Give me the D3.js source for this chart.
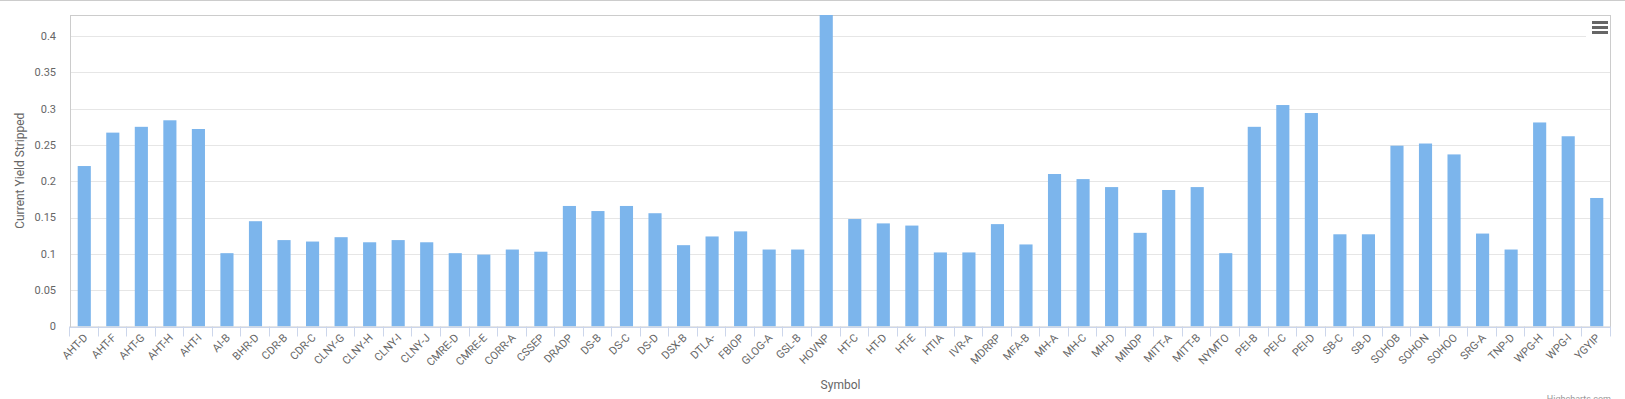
<!DOCTYPE html>
<html>
<head>
<meta charset="utf-8">
<script src="https://cdn.jsdelivr.net/npm/d3@7"></script>
<style>
  body { margin: 0; background: #fff; }
  svg { display: block; font-family: Roboto, "Liberation Sans", Arial, sans-serif; }
</style>
</head>
<body>
<div id="chart"></div>
<script>
var symbols = ["AHT-D","AHT-F","AHT-G","AHT-H","AHT-I","AI-B","BHR-D","CDR-B","CDR-C","CLNY-G",
  "CLNY-H","CLNY-I","CLNY-J","CMRE-D","CMRE-E","CORR-A","CSSEP","DRADP","DS-B","DS-C",
  "DS-D","DSX-B","DTLA-","FBIOP","GLOG-A","GSL-B","HOVNP","HT-C","HT-D","HT-E",
  "HTIA","IVR-A","MDRRP","MFA-B","MH-A","MH-C","MH-D","MINDP","MITT-A","MITT-B",
  "NYMTO","PEI-B","PEI-C","PEI-D","SB-C","SB-D","SOHOB","SOHON","SOHOO","SRG-A",
  "TNP-D","WPG-H","WPG-I","YGYIP"]

var yields = [0.221,0.267,0.275,0.284,0.272,0.101,0.145,0.119,0.117,0.123,
  0.116,0.119,0.116,0.101,0.099,0.106,0.103,0.166,0.159,0.166,
  0.156,0.112,0.124,0.131,0.106,0.106,0.55,0.148,0.142,0.139,
  0.102,0.102,0.141,0.113,0.210,0.203,0.192,0.129,0.188,0.192,
  0.101,0.275,0.305,0.294,0.127,0.127,0.249,0.252,0.237,0.128,
  0.106,0.281,0.262,0.177]

var yTicks = [0, 0.05, 0.1, 0.15, 0.2, 0.25, 0.3, 0.35, 0.4]
var yMax = 0.429

const width = 1625
const height = 399
const plot = { left: 70, right: 1611, top: 15, bottom: 326.5 }

const data = symbols.map((s, i) => ({ symbol: s, value: yields[i] }))

const x = d3.scaleBand()
    .domain(symbols)
    .range([plot.left, plot.right])
    .paddingInner(0.54)
    .paddingOuter(0.27)

// category edges, used for the tick marks
const xEdge = d3.scaleBand()
    .domain(symbols)
    .range([plot.left, plot.right])
    .padding(0)

const y = d3.scaleLinear()
    .domain([0, yMax])
    .range([plot.bottom, plot.top])

const fmt = d3.format(".2~f")

const svg = d3.select("#chart").append("svg")
    .attr("width", width)
    .attr("height", height)

// thin line along top of the page
svg.append("line")
    .attr("x1", 0).attr("x2", width)
    .attr("y1", 0.5).attr("y2", 0.5)
    .attr("stroke", "#cccccc")

// gridlines
svg.append("g")
    .selectAll("line")
    .data(yTicks)
    .join("line")
    .attr("x1", plot.left).attr("x2", plot.right)
    .attr("y1", d => Math.round(y(d)) + 0.5)
    .attr("y2", d => Math.round(y(d)) + 0.5)
    .attr("stroke", "#e6e6e6")

// plot border
svg.append("rect")
    .attr("x", plot.left + 0.5)
    .attr("y", plot.top + 0.5)
    .attr("width", plot.right - plot.left - 1)
    .attr("height", plot.bottom - plot.top)
    .attr("fill", "none")
    .attr("stroke", "#cccccc")

svg.append("clipPath")
    .attr("id", "clip")
    .append("rect")
    .attr("x", plot.left)
    .attr("y", plot.top)
    .attr("width", plot.right - plot.left)
    .attr("height", plot.bottom - plot.top)

// bars
svg.append("g")
    .attr("clip-path", "url(#clip)")
    .selectAll("rect")
    .data(data)
    .join("rect")
    .attr("x", d => x(d.symbol))
    .attr("width", x.bandwidth())
    .attr("y", d => y(d.value))
    .attr("height", d => y(0) - y(d.value))
    .attr("fill", "#7cb5ec")

// x axis line + ticks
svg.append("line")
    .attr("x1", plot.left).attr("x2", plot.right)
    .attr("y1", Math.round(plot.bottom) + 0.5).attr("y2", Math.round(plot.bottom) + 0.5)
    .attr("stroke", "#ccd6eb")

const tickPos = symbols.map(s => xEdge(s)).concat([plot.right])
svg.append("g")
    .selectAll("line")
    .data(tickPos)
    .join("line")
    .attr("x1", d => Math.round(d) - 0.5)
    .attr("x2", d => Math.round(d) - 0.5)
    .attr("y1", plot.bottom)
    .attr("y2", plot.bottom + 10)
    .attr("stroke", "#ccd6eb")

// x labels
svg.append("g")
    .selectAll("text")
    .data(symbols)
    .join("text")
    .attr("transform", d => `translate(${x(d) + x.bandwidth() / 2 + 4},${plot.bottom + 12}) rotate(-45)`)
    .attr("text-anchor", "end")
    .attr("font-size", 11)
    .attr("fill", "#666666")
    .text(d => d)

// y labels
svg.append("g")
    .selectAll("text")
    .data(yTicks)
    .join("text")
    .attr("x", 56)
    .attr("y", d => y(d))
    .attr("dy", "0.35em")
    .attr("text-anchor", "end")
    .attr("font-size", 11)
    .attr("fill", "#666666")
    .text(d => fmt(d))

// axis titles
svg.append("text")
    .attr("transform", `translate(24,${(plot.top + plot.bottom) / 2}) rotate(-90)`)
    .attr("text-anchor", "middle")
    .attr("font-size", 12)
    .attr("fill", "#666666")
    .text("Current Yield Stripped")

svg.append("text")
    .attr("x", (plot.left + plot.right) / 2)
    .attr("y", 389)
    .attr("text-anchor", "middle")
    .attr("font-size", 12)
    .attr("fill", "#666666")
    .text("Symbol")

// credits
svg.append("text")
    .attr("x", plot.right)
    .attr("y", 402)
    .attr("text-anchor", "end")
    .attr("font-size", 9)
    .attr("fill", "#999999")
    .text("Highcharts.com")

// context menu button
const menu = svg.append("g")
menu.append("rect")
    .attr("x", 1586).attr("y", 17)
    .attr("width", 24).attr("height", 22)
    .attr("fill", "#ffffff")
menu.selectAll("line")
    .data([22.5, 27.5, 32.5])
    .join("line")
    .attr("x1", 1592).attr("x2", 1608)
    .attr("y1", d => d).attr("y2", d => d)
    .attr("stroke", "#666666")
    .attr("stroke-width", 3)
</script>
</body>
</html>
